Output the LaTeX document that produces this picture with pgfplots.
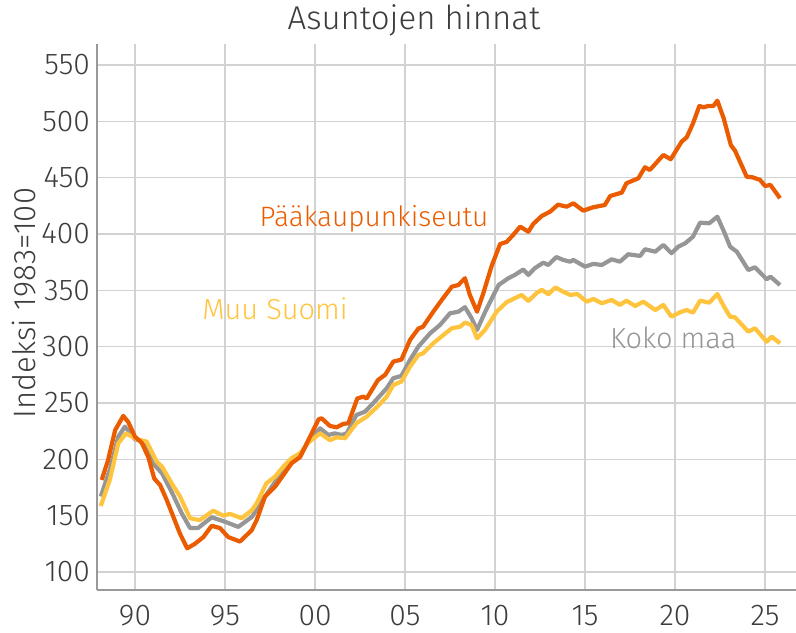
\documentclass[border=0pt]{standalone}
\usepackage{fontspec}
\setmainfont{Fira Sans}[UprightFont={* Light}]
\usepackage{pgfplots}
\pgfplotsset{compat=1.18}
\definecolor{cP}{RGB}{235,92,0}
\definecolor{cK}{RGB}{150,150,150}
\definecolor{cM}{RGB}{255,196,61}
\definecolor{txt}{RGB}{60,60,60}
\definecolor{gridc}{RGB}{210,210,210}
\begin{document}
\begin{tikzpicture}
\begin{axis}[
 scale only axis, width=349.5pt, height=273pt,
 xmin=1987.89, xmax=2026.72, ymin=84, ymax=568.6,
 axis x line*=bottom, axis y line*=left,
 axis line style={-, draw=gray!80, line width=0.6pt},
 xtick={1990,1995,2000,2005,2010,2015,2020,2025},
 xticklabels={90,95,00,05,10,15,20,25},
 ytick={100,150,200,250,300,350,400,450,500,550},
 grid=major, major grid style={draw=gridc, line width=0.6pt},
 major tick length=0pt,
 tick label style={font=\fontsize{15}{17}\selectfont, text=txt},
 /pgf/number format/assume math mode=true,
 xticklabel style={yshift=-4pt},
 every axis plot/.append style={line width=2.1pt, line join=round, mark=none},
]
\addplot[cK] coordinates {
(1988.1,167) (1988.6,190.5) (1989.07,220) (1989.44,229) (1990.0,217.8) (1990.56,215.7)
(1991.0,196.5) (1991.5,187.6) (1992.04,171) (1992.6,152) (1993.06,139) (1993.5,139)
(1994.26,148.5) (1995.0,144.6) (1995.74,140) (1996.5,149) (1997.1,164) (1997.6,175.7)
(1998.24,190.5) (1998.8,199.4) (1999.26,205.4) (1999.63,215.7) (2000.28,227.5) (2000.74,221.6)
(2001.1,223) (2001.48,221.6) (2001.76,223) (2002.3,239.3) (2002.78,242.3) (2003.4,252.7)
(2003.98,263) (2004.35,272) (2004.8,274) (2005.28,288.2) (2005.74,300) (2006.4,311.9)
(2006.94,319.2) (2007.5,329.6) (2007.96,331) (2008.33,335) (2008.7,325.2) (2009.0,314.8)
(2009.5,332.5) (2010.2,354.7) (2010.74,360.7) (2011.1,363.6) (2011.57,368.5) (2011.85,363.6)
(2012.2,369.5) (2012.68,374.5) (2012.96,372.5) (2013.4,379.5) (2013.8,376.9) (2014.17,375.4)
(2014.35,376.9) (2015.0,371) (2015.46,373.4) (2015.93,372.5) (2016.48,377.5) (2016.94,375.4)
(2017.4,382) (2018.06,380.5) (2018.33,386.4) (2018.9,384.3) (2019.35,390.2) (2019.8,382.9)
(2020.18,388.7) (2020.56,391.7) (2021.0,397.6) (2021.39,410) (2021.9,409.5) (2022.35,415.3)
(2022.72,402) (2023.06,388.7) (2023.43,384.3) (2024.07,368) (2024.44,370.4) (2025.09,359.8)
(2025.3,362.1) (2025.83,354.7)
};
\addplot[cM] coordinates {
(1988.1,158.6) (1988.6,181.7) (1989.07,214) (1989.5,223) (1990.1,217.8) (1990.65,215.7)
(1991.2,198) (1991.5,193.5) (1992.04,178.7) (1992.5,167) (1993.06,147.7) (1993.6,146)
(1994.35,154.4) (1994.9,150) (1995.28,151.5) (1995.93,147.7) (1996.5,155) (1996.76,161)
(1997.3,178.7) (1997.78,184.6) (1998.24,193.5) (1998.7,201) (1999.17,205.4) (1999.63,214.8)
(2000.28,223) (2000.83,217) (2001.2,219.5) (2001.67,218.7) (2002.3,232) (2002.87,237.9)
(2003.5,247.3) (2003.98,255.6) (2004.35,266) (2004.8,269) (2005.28,282.2) (2005.74,292.6)
(2006.0,294) (2006.57,303) (2007.13,310.3) (2007.6,316.3) (2008.06,317.7) (2008.33,321.3)
(2008.7,319.2) (2009.0,307.4) (2009.44,314.8) (2010.09,331) (2010.65,339.5) (2011.1,343)
(2011.48,345.9) (2011.85,340.5) (2012.3,347.4) (2012.6,350.5) (2012.96,346.5) (2013.35,352.5)
(2013.75,349) (2014.17,345.9) (2014.57,346.7) (2015.1,339.9) (2015.46,342.3) (2015.93,338.5)
(2016.48,341.4) (2016.94,337) (2017.3,340.8) (2017.78,336.1) (2018.24,339.9) (2018.9,332.5)
(2019.35,337) (2019.8,326.6) (2020.28,330.5) (2020.65,332.5) (2021.0,330.2) (2021.39,340.8)
(2021.9,339) (2022.35,346.7) (2022.72,335.5) (2023.06,326.6) (2023.33,326) (2024.07,313.3)
(2024.44,316.3) (2025.09,304.4) (2025.37,308.8) (2025.83,303)
};
\addplot[cP] coordinates {
(1988.15,181.7) (1988.5,199) (1988.9,226) (1989.35,238.5) (1989.63,233) (1990.0,220)
(1990.37,214.8) (1990.74,202) (1991.07,183) (1991.4,177) (1991.76,164) (1992.13,149)
(1992.5,134) (1992.9,121) (1993.33,125) (1993.8,131) (1994.26,141) (1994.72,139)
(1995.18,131) (1995.83,127) (1996.48,137) (1996.76,146) (1997.22,166.8) (1997.78,175.7)
(1998.24,186) (1998.7,196.5) (1999.17,202) (1999.63,217) (2000.2,235.5) (2000.37,236.4)
(2000.83,229.6) (2001.2,228.4) (2001.57,231.4) (2001.85,232) (2002.35,254) (2002.68,255.6)
(2002.87,254) (2003.5,270.4) (2003.9,275) (2004.35,286.7) (2004.8,288.5) (2005.28,306)
(2005.74,316) (2006.0,317.7) (2006.57,331) (2007.04,341.4) (2007.6,353.2) (2007.96,354.7)
(2008.33,360.7) (2008.6,345.9) (2009.0,331) (2009.35,347.4) (2009.8,371) (2010.28,391)
(2010.65,393) (2011.0,399) (2011.4,406.5) (2011.85,402) (2012.13,409) (2012.6,416)
(2013.06,419.8) (2013.5,426) (2013.98,424.2) (2014.35,427.2) (2014.9,420.7) (2015.46,423.7)
(2016.1,425.7) (2016.4,433.7) (2017.04,436.7) (2017.3,445) (2017.96,449.4) (2018.33,459.2)
(2018.6,456.8) (2019.35,470.1) (2019.76,466.3) (2020.37,482) (2020.65,485.8) (2021.0,498.2)
(2021.35,513.6) (2021.57,512.4) (2021.85,513.6) (2022.13,513.6) (2022.35,518.3) (2022.7,502.7)
(2023.1,478.9) (2023.33,474) (2023.98,450.8) (2024.3,450.3) (2024.72,448) (2025.0,442.6)
(2025.3,443.5) (2025.83,431.7)
};
\node[text=cP, font=\fontsize{14}{16}\selectfont] at (axis cs:2003.28,413.3) {Pääkaupunkiseutu};
\node[text=cM, font=\fontsize{14.5}{16}\selectfont] at (axis cs:1997.78,333.4) {Muu Suomi};
\node[text=cK, font=\fontsize{14.5}{16}\selectfont] at (axis cs:2019.9,307.7) {Koko maa};
\end{axis}
\node[text=txt, font=\fontsize{16.5}{19}\selectfont] at (158.5pt,285pt) {Asuntojen hinnat};
\node[text=txt, rotate=90, font=\fontsize{15.5}{17}\selectfont] at (-36.5pt,143.5pt) {Indeksi 1983=100};
\pgfresetboundingbox
\path[use as bounding box] (-48.5pt,-21pt) rectangle (349.5pt,295pt);
\end{tikzpicture}
\end{document}
